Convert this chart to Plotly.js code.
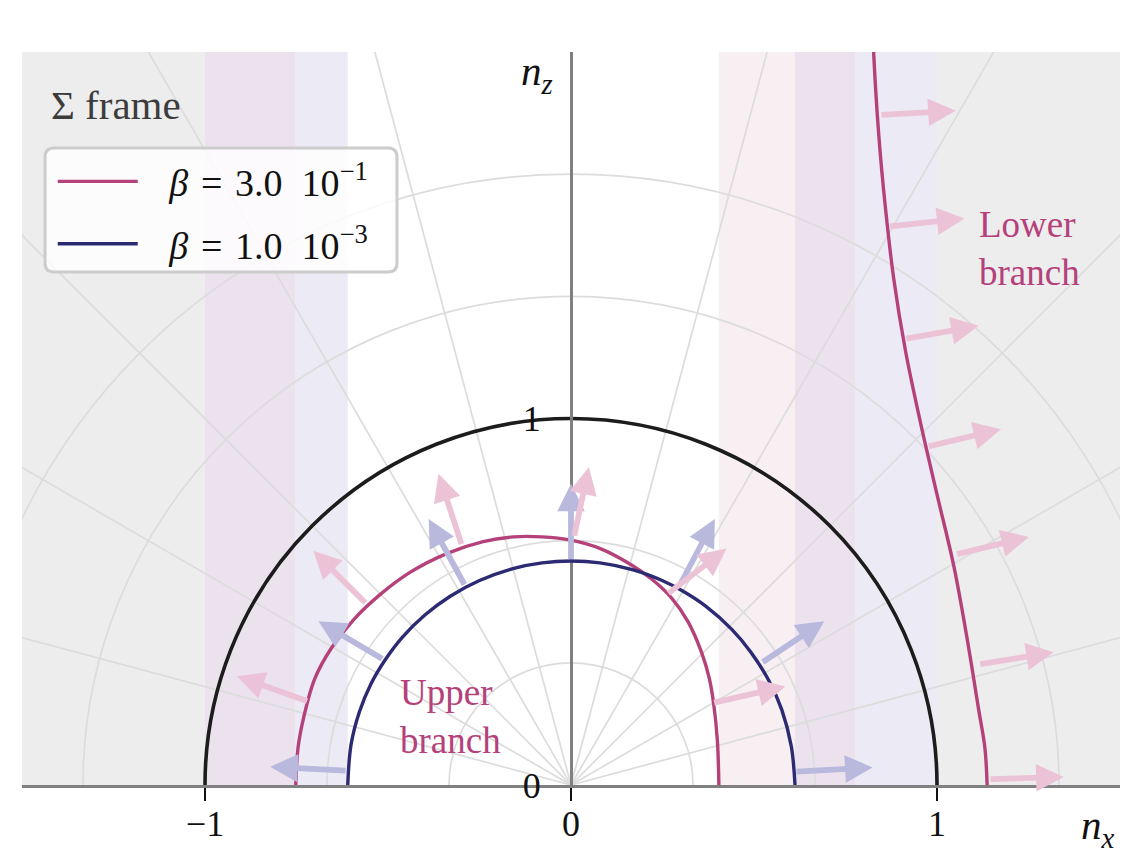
<!DOCTYPE html>
<html><head><meta charset="utf-8">
<script src="https://cdn.plot.ly/plotly-3.0.1.min.js"></script>
<style>html,body{margin:0;padding:0;background:#fff}</style>
</head><body>
<div id="chart" style="width:1143px;height:857px"></div>
<script>
// ---------- data ----------
const seriesNames = ['<i>β</i>\u2004=\u20043.0\u200210<sup>−1</sup>', '<i>β</i>\u2004=\u20041.0\u200210<sup>−3</sup>'];

// beta = 3.0e-1, upper branch (n_x, n_z)
const pinkUpperX = [-0.752, -0.746, -0.730, -0.700, -0.655, -0.593, -0.521, -0.440, -0.338, -0.240, -0.157, -0.080, 0.000, 0.080, 0.154, 0.220, 0.275, 0.320, 0.357, 0.378, 0.390, 0.400, 0.404];
const pinkUpperY = [0.000, 0.100, 0.186, 0.290, 0.373, 0.452, 0.520, 0.580, 0.632, 0.664, 0.677, 0.677, 0.668, 0.645, 0.607, 0.562, 0.510, 0.445, 0.361, 0.290, 0.220, 0.120, 0.000];
// beta = 3.0e-1, lower branch
const pinkLowerX = [1.137, 1.131, 1.114, 1.082, 1.046, 1.000, 0.955, 0.914, 0.882, 0.859, 0.841, 0.827, 0.825];
const pinkLowerY = [0.000, 0.100, 0.205, 0.401, 0.597, 0.793, 0.988, 1.184, 1.380, 1.576, 1.772, 1.996, 2.050];
// beta = 1.0e-3, upper branch
const blueUpperX = [-0.610, -0.601, -0.578, -0.547, -0.508, -0.461, -0.400, -0.330, -0.250, -0.156, -0.079, 0.000, 0.079, 0.170, 0.249, 0.304, 0.368, 0.440, 0.491, 0.540, 0.576, 0.602, 0.612];
const blueUpperY = [0.000, 0.110, 0.200, 0.275, 0.341, 0.403, 0.463, 0.515, 0.558, 0.591, 0.606, 0.611, 0.606, 0.587, 0.558, 0.530, 0.488, 0.424, 0.363, 0.286, 0.205, 0.105, 0.000];

// ray (group velocity) arrows: start on curve -> tip
const pinkArrowX0 = [-0.717, -0.558, -0.298, 0.008, 0.262, 0.387, 0.844, 0.868, 0.912, 0.973, 1.051, 1.114, 1.142];
const pinkArrowY0 = [0.228, 0.493, 0.653, 0.676, 0.520, 0.224, 1.828, 1.524, 1.217, 0.923, 0.629, 0.329, 0.016];
const pinkArrowX1 = [-0.913, -0.704, -0.362, 0.049, 0.425, 0.586, 1.051, 1.075, 1.114, 1.175, 1.251, 1.319, 1.346];
const pinkArrowY1 = [0.297, 0.639, 0.849, 0.868, 0.645, 0.269, 1.840, 1.546, 1.253, 0.971, 0.677, 0.362, 0.022];
const blueArrowX0 = [-0.612, -0.512, -0.289, 0.000, 0.296, 0.520, 0.612];
const blueArrowY0 = [0.039, 0.342, 0.543, 0.612, 0.543, 0.333, 0.036];
const blueArrowX1 = [-0.822, -0.690, -0.389, 0.000, 0.393, 0.692, 0.824];
const blueArrowY1 = [0.050, 0.447, 0.726, 0.822, 0.726, 0.447, 0.048];

// shaded n_x bands
const bandStart = [-1.5, 1.0, -1.0, -0.752, 0.404, 0.612, 0.778];
const bandEnd   = [-1.0, 1.5, -0.752, -0.610, 0.612, 0.778, 1.0];
const bandColor = ['#ededed', '#ededed', '#ebe2ee', '#ecebf5', '#f8eff3', '#ebe2ee', '#ecebf5'];

// polar grid
const gridRadii = [1/3, 2/3, 1, 4/3, 5/3];
const spokeAngles = [15, 30, 45, 60, 75, 90, 105, 120, 135, 150, 165];
const vacuumRadius = [1];

// ticks / labels
const xTickVals = [-1, 0, 1];
const xTickText = ['−1', '0', '1'];
const yTickVals = [0, 1];
const yTickText = ['0', '1'];

// ---------- styles ----------
const FONT = 'Liberation Serif, DejaVu Serif, serif';
const PINK = '#b5417b', BLUE = '#2b2a72';
const PINK_ARROW = '#ecc3d6', BLUE_ARROW = '#b9b8dd';

const traces = [
  {x: pinkUpperX, y: pinkUpperY, mode: 'lines', line: {color: PINK, width: 3.4, shape: 'spline', smoothing: 1},
   name: '\u2002\u2009' + seriesNames[0], legendgroup: 'p', showlegend: true, hoverinfo: 'skip'},
  {x: blueUpperX, y: blueUpperY, mode: 'lines', line: {color: BLUE, width: 3.4, shape: 'spline', smoothing: 1},
   name: '\u2002\u2009' + seriesNames[1], legendgroup: 'b', showlegend: true, hoverinfo: 'skip'},
  {x: pinkLowerX, y: pinkLowerY, mode: 'lines', line: {color: PINK, width: 3.4, shape: 'spline', smoothing: 1},
   name: seriesNames[0], legendgroup: 'p', showlegend: false, hoverinfo: 'skip'}
];

const shapes = [];
bandStart.forEach((s, i) => shapes.push({type: 'rect', xref: 'x', yref: 'y', x0: s, x1: bandEnd[i], y0: 0, y1: 2.1,
  fillcolor: bandColor[i], line: {width: 0}, layer: 'below'}));
gridRadii.forEach(r => shapes.push({type: 'circle', xref: 'x', yref: 'y', x0: -r, x1: r, y0: -r, y1: r,
  line: {color: '#dcdcdc', width: 1.7}, layer: 'below'}));
spokeAngles.forEach(a => {
  const t = a * Math.PI / 180;
  shapes.push({type: 'line', xref: 'x', yref: 'y', x0: 0, y0: 0, x1: 3 * Math.cos(t), y1: 3 * Math.sin(t),
    line: {color: '#dcdcdc', width: 1.7}, layer: 'below'});
});
vacuumRadius.forEach(r => shapes.push({type: 'circle', xref: 'x', yref: 'y', x0: -r, x1: r, y0: -r, y1: r,
  line: {color: '#1c1c1c', width: 3.6}, layer: 'below'}));

// legend frame (rounded)
const lx0 = 0.021, lx1 = 0.3415, ly0 = 0.700, ly1 = 0.869, rx = 9 / 1098, ry = 9 / 733;
shapes.push({type: 'path', xref: 'paper', yref: 'paper', layer: 'above',
  path: `M${lx0+rx},${ly1} L${lx1-rx},${ly1} Q${lx1},${ly1} ${lx1},${ly1-ry} L${lx1},${ly0+ry} Q${lx1},${ly0} ${lx1-rx},${ly0} ` +
        `L${lx0+rx},${ly0} Q${lx0},${ly0} ${lx0},${ly0+ry} L${lx0},${ly1-ry} Q${lx0},${ly1} ${lx0+rx},${ly1} Z`,
  fillcolor: 'rgba(255,255,255,0.82)', line: {color: '#cccccc', width: 3}});

const annotations = [];
function addArrows(x0, y0, x1, y1, color) {
  x0.forEach((_, i) => annotations.push({x: x1[i], y: y1[i], ax: x0[i], ay: y0[i], xref: 'x', yref: 'y',
    axref: 'x', ayref: 'y', text: '', showarrow: true, arrowhead: 2, arrowsize: 0.95, arrowwidth: 5.8,
    arrowcolor: color, standoff: 0, startstandoff: 0}));
}
addArrows(blueArrowX0, blueArrowY0, blueArrowX1, blueArrowY1, BLUE_ARROW);
addArrows(pinkArrowX0, pinkArrowY0, pinkArrowX1, pinkArrowY1, PINK_ARROW);

const txt = (text, x, y, opts) => Object.assign({text, x, y, xref: 'x', yref: 'y', showarrow: false,
  xanchor: 'left', yanchor: 'middle', align: 'left', font: {family: FONT, size: 37, color: PINK}}, opts || {});
annotations.push(txt('Upper<br>branch', -0.474, 0.186));
annotations.push(txt('Lower<br>branch', 1.110, 1.465));
annotations.push(txt('Σ frame', -1.425, 1.855, {font: {family: FONT, size: 41, color: '#3c3c3c'}}));
annotations.push({text: '<i>n</i><sub><i>z</i></sub>', x: -0.045, y: 1.94, xref: 'x', yref: 'y', showarrow: false,
  xanchor: 'right', yanchor: 'middle', font: {family: FONT, size: 41, color: '#111'}});
annotations.push({text: '<i>n</i><sub><i>x</i></sub>', x: 0.997, y: -0.058, xref: 'paper', yref: 'paper', showarrow: false,
  xanchor: 'right', yanchor: 'middle', font: {family: FONT, size: 41, color: '#111'}});

const layout = {
  width: 1143, height: 857,
  margin: {l: 22, r: 23, t: 52, b: 72},
  paper_bgcolor: '#ffffff', plot_bgcolor: '#ffffff',
  showlegend: true,
  legend: {x: 0.028, y: 0.866, xanchor: 'left', yanchor: 'top', bgcolor: 'rgba(0,0,0,0)', borderwidth: 0,
    font: {family: FONT, size: 38, color: '#111'}, itemwidth: 80},
  xaxis: {range: [-1.5, 1.5], showgrid: false, zeroline: false, showline: true, linecolor: '#808080', linewidth: 3,
    tickvals: xTickVals, ticktext: xTickText, ticks: 'outside', ticklen: 13, tickwidth: 2.5, tickcolor: '#111',
    tickfont: {family: FONT, size: 36, color: '#111'}, layer: 'below traces', fixedrange: true, ticklabelstandoff: -8},
  yaxis: {range: [0, 2], showgrid: false, zeroline: false, showline: true, linecolor: '#808080', linewidth: 3,
    anchor: 'free', position: 0.5, side: 'left', tickvals: yTickVals, ticktext: yTickText, ticks: '',
    tickfont: {family: FONT, size: 36, color: '#111'}, layer: 'below traces', fixedrange: true, ticklabelstandoff: 22},
  shapes, annotations
};

Plotly.newPlot('chart', traces, layout, {staticPlot: true, displayModeBar: false});
</script>
</body></html>
